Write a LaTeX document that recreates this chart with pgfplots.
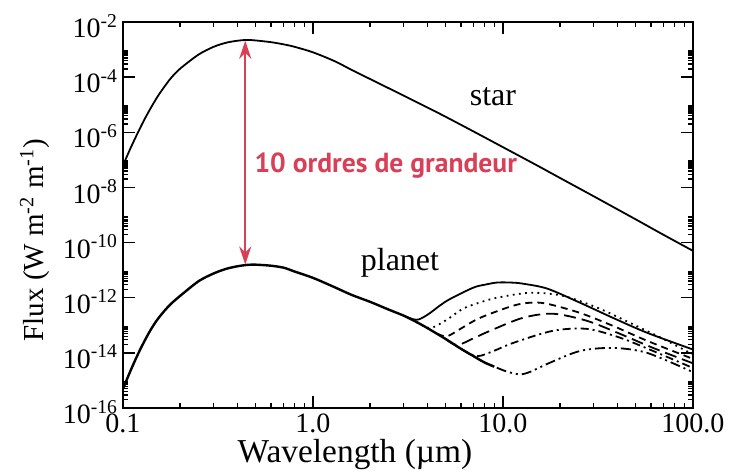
\documentclass[border=0pt]{standalone}
\usepackage{fontspec}
\setmainfont{Liberation Serif}
\newfontfamily\annfont{PT Sans}
\usepackage{pgfplots}
\pgfplotsset{compat=1.18}
\usetikzlibrary{arrows.meta,calc}
\definecolor{annred}{RGB}{217,64,87}
\newcommand\ee[1]{10\textsuperscript{#1}}

\begin{document}
\begin{tikzpicture}
\begin{axis}[
    scale only axis,
    width=285pt, height=193pt,
    xmode=log, ymode=log,
    xmin=0.1, xmax=100, ymin=1e-16, ymax=1e-2,
    axis line style={line width=0.9pt},
    tick style={line width=0.7pt, black},
    major tick length=6pt, minor tick length=2.6pt,
    tick align=inside,
    xtick={0.1,1,10,100},
    xticklabels={0.1,1.0,10.0,100.0},
    minor xtick={0.2,0.3,0.4,0.5,0.6,0.7,0.8,0.9,2,3,4,5,6,7,8,9,20,30,40,50,60,70,80,90},
    ytick={1e-16,1e-14,1e-12,1e-10,1e-8,1e-6,1e-4,1e-2},
    yticklabels={\ee{-16},\ee{-14},\ee{-12},\ee{-10},\ee{-8},\ee{-6},\ee{-4},\ee{-2}},
    minor ytick={2e-16,3e-16,4e-16,5e-16,6e-16,7e-16,8e-16,9e-16,
                 2e-14,3e-14,4e-14,5e-14,6e-14,7e-14,8e-14,9e-14,
                 2e-12,3e-12,4e-12,5e-12,6e-12,7e-12,8e-12,9e-12,
                 2e-10,3e-10,4e-10,5e-10,6e-10,7e-10,8e-10,9e-10,
                 2e-8,3e-8,4e-8,5e-8,6e-8,7e-8,8e-8,9e-8,
                 2e-6,3e-6,4e-6,5e-6,6e-6,7e-6,8e-6,9e-6,
                 2e-4,3e-4,4e-4,5e-4,6e-4,7e-4,8e-4,9e-4},
    ticklabel style={font=\fontsize{14}{14}\selectfont},
    xticklabel style={yshift=0.5pt},
    yticklabel style={xshift=1pt, yshift=-2pt},
    xlabel={Wavelength (µm)},
    ylabel={Flux (W m\textsuperscript{-2} m\textsuperscript{-1})},
    xlabel style={font=\fontsize{16.7}{17}\selectfont, at={(rel axis cs:0.407,0)}, anchor=base, yshift=-27pt},
    ylabel style={font=\fontsize{14.5}{15}\selectfont, at={(rel axis cs:0,0.435)}, anchor=center, yshift=44pt},
    every axis plot/.append style={line width=0.9pt, black},
]
% star
\addplot[smooth] coordinates {
(0.10,6.31e-8) (0.11,2.82e-7) (0.12,1.0e-6) (0.13,3.02e-6) (0.14,7.59e-6)
(0.15,1.70e-5) (0.16,3.31e-5) (0.17,5.89e-5) (0.18,9.77e-5) (0.20,2.04e-4)
(0.25,6.61e-4) (0.30,1.26e-3) (0.35,1.78e-3) (0.40,2.09e-3) (0.45,2.24e-3)
(0.50,2.14e-3) (0.60,1.86e-3) (0.70,1.55e-3) (0.80,1.26e-3) (1.0,7.94e-4)
(1.3,3.80e-4) (1.6,1.82e-4) (2.0,8.51e-5) (3.0,2.14e-5) (4.0,7.94e-6)
(5.0,3.63e-6) (7.0,1.07e-6) (10,2.88e-7) (15,6.46e-8) (20,2.19e-8)
(30,4.79e-9) (50,6.92e-10) (70,1.91e-10) (100,5.01e-11)
};
% planet, reflected light
\addplot[smooth, line width=1.2pt] coordinates {
(0.10,5.01e-16) (0.11,2.40e-15) (0.12,9.12e-15) (0.13,2.75e-14) (0.14,6.92e-14)
(0.15,1.45e-13) (0.16,2.57e-13) (0.17,4.17e-13) (0.18,6.24e-13) (0.20,1.17e-12)
(0.25,3.98e-12) (0.30,7.59e-12) (0.35,1.12e-11) (0.40,1.38e-11) (0.45,1.55e-11)
(0.50,1.58e-11) (0.60,1.45e-11) (0.70,1.23e-11) (0.80,8.91e-12) (1.0,5.25e-12)
(1.3,2.40e-12) (1.6,1.26e-12) (2.0,7.08e-13) (2.5,3.72e-13) (3.0,2.24e-13)
(3.5,1.32e-13) (4.0,7.94e-14) (5.0,3.16e-14) (6.0,1.41e-14) (7.0,7.59e-15)
(8.0,4.47e-15) (9.0,3.16e-15)
};
% thermal emission, six cases
\addplot[smooth] coordinates {
(3.0,2.24e-13) (3.5,1.58e-13) (4.0,2.40e-13) (5.07,7.76e-13) (6.95,2.29e-12)
(8.0,2.95e-12) (9.3,3.55e-12) (11,3.55e-12) (12.7,3.24e-12) (17.1,2.14e-12)
(25.4,6.61e-13) (37.9,1.86e-13) (57.3,5.37e-14) (100,1.32e-14)
};
\addplot[smooth, dash pattern=on 0.9pt off 2.2pt] coordinates {
(3.5,1.32e-13) (4.13,7.94e-14) (5.0,1.51e-13) (6.15,3.98e-13) (7.5,6.61e-13)
(9.3,1.0e-12) (13.9,1.51e-12) (20.7,1.17e-12) (31.3,4.37e-13) (46.6,1.23e-13)
(69.5,3.24e-14) (100,8.71e-15)
};
\addplot[smooth, dash pattern=on 3.5pt off 2.5pt] coordinates {
(4.5,5.01e-14) (5.07,3.98e-14) (6.0,7.59e-14) (7.57,1.86e-13) (11.3,5.13e-13)
(14,6.61e-13) (17.1,6.03e-13) (25.4,2.82e-13) (37.9,9.55e-14) (57.3,2.75e-14)
(100,6.03e-15)
};
\addplot[smooth, dash pattern=on 6pt off 3pt] coordinates {
(5.0,3.16e-14) (5.73,1.91e-14) (7.0,3.39e-14) (8.55,6.31e-14) (12.7,1.86e-13)
(18.3,2.63e-13) (27.7,1.45e-13) (41.3,4.90e-14) (61.7,1.51e-14) (100,4.17e-15)
};
\addplot[smooth, dash pattern=on 4pt off 2pt on 1pt off 2pt] coordinates {
(6.0,1.41e-14) (7.3,7.59e-15) (9.0,1.20e-14) (11.3,2.29e-14) (18.3,6.31e-14)
(27.7,7.41e-14) (41.3,3.55e-14) (61.7,1.17e-14) (100,2.82e-15)
};
\addplot[smooth, dash pattern=on 5pt off 2pt on 1pt off 2pt on 1pt off 2pt] coordinates {
(7.0,7.59e-15) (8.0,4.47e-15) (9.0,3.16e-15) (10.5,2.09e-15) (12.3,1.66e-15)
(14.0,2.09e-15) (17.1,3.98e-15) (25.4,1.17e-14) (37.9,1.51e-14) (57.3,1.0e-14)
(100,2.0e-15)
};
% annotations
\draw[annred, line width=1.2pt, {Stealth[length=9pt,width=6pt]}-{Stealth[length=9pt,width=6pt]}]
  (axis cs:0.44,1.6e-11) -- (axis cs:0.44,2.1e-3);
\node[annred, anchor=west, font=\annfont\bfseries\fontsize{13.8}{14}\selectfont, inner sep=0pt]
  at (axis cs:0.49,6.3e-8) {10 ordres de grandeur};
\node[font=\fontsize{16}{16}\selectfont] at (axis cs:8.85,1.9e-5) {star};
\node[font=\fontsize{16}{16}\selectfont] at (axis cs:2.87,1.9e-11) {planet};
\coordinate (sw) at (rel axis cs:0,0);
\coordinate (ne) at (rel axis cs:1,1);
\end{axis}
\pgfresetboundingbox
\path[use as bounding box] ($(sw)+(-61.5pt,-32.5pt)$) rectangle ($(ne)+(18.5pt,11pt)$);
\end{tikzpicture}
\end{document}
